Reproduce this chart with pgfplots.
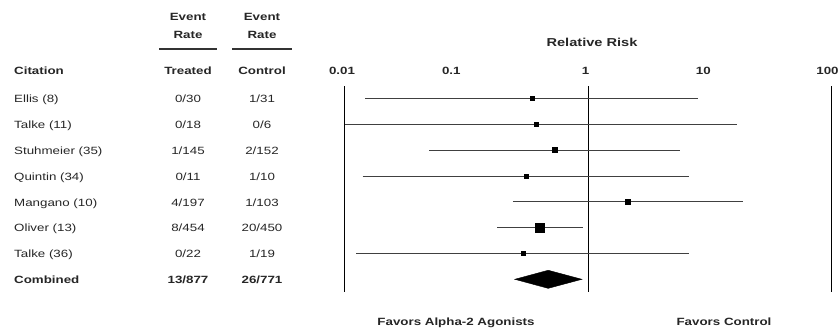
\documentclass[border=0pt]{standalone}
\usepackage{pgfplots}
\pgfplotsset{compat=1.18}
\usepackage{fontspec}
\setmainfont{Liberation Sans}[FakeStretch=1.27]

\begin{document}
\begin{tikzpicture}[every node/.style={font=\fontsize{10.5bp}{12bp}\selectfont, inner sep=0pt, text=black!85}]
\useasboundingbox (0bp,0bp) rectangle (839bp,-331bp);

% column headers
\node[anchor=base, font=\fontsize{10.5bp}{12bp}\selectfont\bfseries] at (188bp,-20.8bp) {Event};
\node[anchor=base, font=\fontsize{10.5bp}{12bp}\selectfont\bfseries] at (188bp,-38.8bp) {Rate};
\node[anchor=base, font=\fontsize{10.5bp}{12bp}\selectfont\bfseries] at (262bp,-20.8bp) {Event};
\node[anchor=base, font=\fontsize{10.5bp}{12bp}\selectfont\bfseries] at (262bp,-38.8bp) {Rate};
\draw[black!80, line width=1.2bp] (159bp,-49bp) -- (217bp,-49bp);
\draw[black!80, line width=1.2bp] (232bp,-49bp) -- (292bp,-49bp);
\node[anchor=base west, font=\fontsize{10.5bp}{12bp}\selectfont\bfseries] at (14bp,-74.8bp) {Citation};
\node[anchor=base, font=\fontsize{10.5bp}{12bp}\selectfont\bfseries] at (188bp,-74.8bp) {Treated};
\node[anchor=base, font=\fontsize{10.5bp}{12bp}\selectfont\bfseries] at (262bp,-74.8bp) {Control};

% study rows
\foreach \name/\tr/\ct/\yb in {
  Ellis (8)/0\slash30/1\slash31/102.8,
  Talke (11)/0\slash18/0\slash6/128.6,
  Stuhmeier (35)/1\slash145/2\slash152/154.4,
  Quintin (34)/0\slash11/1\slash10/180.2,
  Mangano (10)/4\slash197/1\slash103/206.0,
  Oliver (13)/8\slash454/20\slash450/231.8,
  Talke (36)/0\slash22/1\slash19/257.6}{
  \node[anchor=base west] at (14bp,-\yb bp) {\name};
  \node[anchor=base] at (188bp,-\yb bp) {\tr};
  \node[anchor=base] at (262bp,-\yb bp) {\ct};
}
\node[anchor=base west, font=\fontsize{10.5bp}{12bp}\selectfont\bfseries] at (14bp,-283.4bp) {Combined};
\node[anchor=base, font=\fontsize{10.5bp}{12bp}\selectfont\bfseries] at (188bp,-283.4bp) {13/877};
\node[anchor=base, font=\fontsize{10.5bp}{12bp}\selectfont\bfseries] at (262bp,-283.4bp) {26/771};

% forest plot
\begin{axis}[
  at={(344.5bp,-291.7bp)}, anchor=south west,
  scale only axis, width=487.2bp, height=205.7bp,
  xmode=log, xmin=0.01, xmax=100,
  ymin=0.52, ymax=8.48, y dir=reverse,
  axis line style={draw=none},
  xtick={0.01,0.1,1,10,100},
  % the leading kerns nudge each label a little to the left
  xticklabels={\kern-5bp 0.01,\kern-30bp 0.1,\kern-5bp 1,\kern-13bp 10,\kern-8.4bp 100},
  xminorticks=false,
  xticklabel pos=upper,
  major tick length=0pt,
  ytick=\empty,
  xticklabel style={font=\fontsize{10.5bp}{12bp}\selectfont\bfseries, anchor=base, yshift=11.2bp},
  clip=false,
]
% reference lines
\addplot[black, line width=0.9bp] coordinates {(0.01,0.52) (0.01,8.48)};
\addplot[black, line width=0.9bp] coordinates {(1,0.52) (1,8.48)};
\addplot[black, line width=0.9bp] coordinates {(100,0.52) (100,8.48)};

% confidence intervals
\addplot[black!75, line width=0.8bp] coordinates {(0.0148,1) (8.05,1)};
\addplot[black!75, line width=0.8bp] coordinates {(0.01,2) (16.8,2)};
\addplot[black!75, line width=0.8bp] coordinates {(0.0495,3) (5.7,3)};
\addplot[black!75, line width=0.8bp] coordinates {(0.0141,4) (6.75,4)};
\addplot[black!75, line width=0.8bp] coordinates {(0.241,5) (18.6,5)};
\addplot[black!75, line width=0.8bp] coordinates {(0.18,6) (0.90,6)};
\addplot[black!75, line width=0.8bp] coordinates {(0.0125,7) (6.75,7)};

% point estimates
\addplot[only marks, mark=square*, mark size=2.1bp, black] coordinates {(0.349,1)};
\addplot[only marks, mark=square*, mark size=2.0bp, black] coordinates {(0.374,2)};
\addplot[only marks, mark=square*, mark size=2.5bp, black] coordinates {(0.529,3)};
\addplot[only marks, mark=square*, mark size=2.1bp, black] coordinates {(0.31,4)};
\addplot[only marks, mark=square*, mark size=2.8bp, black] coordinates {(2.12,5)};
\addplot[only marks, mark=square*, mark size=4.6bp, black] coordinates {(0.40,6)};
\addplot[only marks, mark=square*, mark size=2.0bp, black] coordinates {(0.291,7)};

% pooled estimate
\addplot[fill=black, draw=black] coordinates {(0.25,8) (0.47,7.65) (0.89,8) (0.47,8.35)} -- cycle;
\end{axis}

\node[anchor=base, font=\fontsize{11.5bp}{13bp}\selectfont\bfseries] at (592bp,-46.2bp) {Relative Risk};
\node[anchor=base, font=\fontsize{10.5bp}{12bp}\selectfont\bfseries] at (456bp,-325.8bp) {Favors Alpha-2 Agonists};
\node[anchor=base, font=\fontsize{10.5bp}{12bp}\selectfont\bfseries] at (724bp,-325.8bp) {Favors Control};
\end{tikzpicture}
\end{document}
